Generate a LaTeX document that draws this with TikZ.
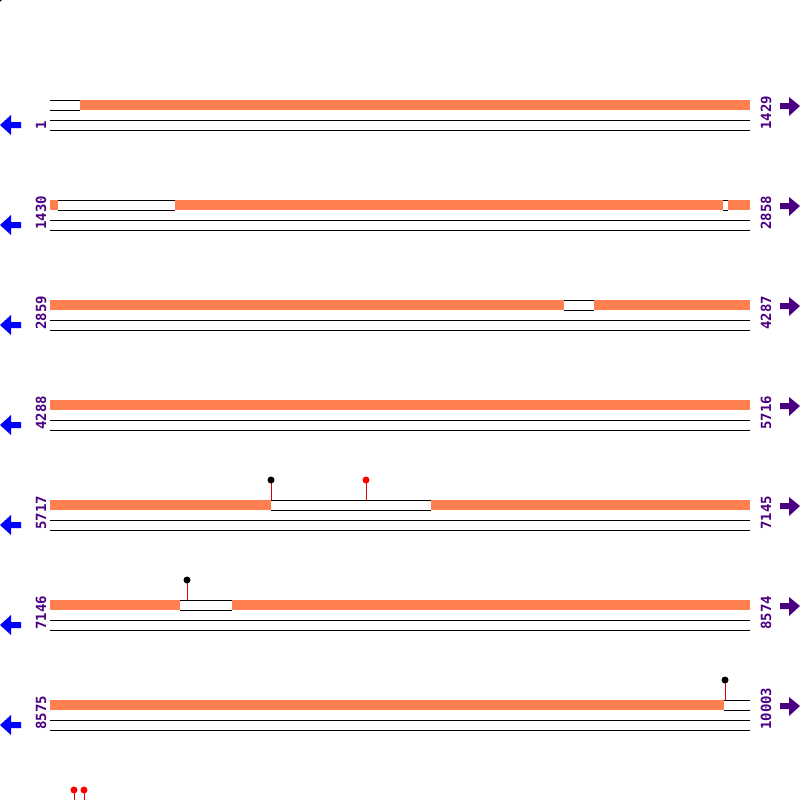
\documentclass[tikz,border=0pt]{standalone}
\usepackage{fontspec}
\newfontfamily\labfont{DejaVu Sans Mono}
\definecolor{barcol}{HTML}{FF7F50}
\definecolor{labcol}{HTML}{4B0082}
\definecolor{stemcol}{HTML}{E00000}
\tikzset{
  orangebar/.style={fill=barcol,draw=none},
  gapline/.style={draw=black,line width=1pt},
  track/.style={draw=black,line width=1pt},
  poslabel/.style={text=labcol,font=\labfont\bfseries\fontsize{14}{14}\selectfont,rotate=90,anchor=base west,inner sep=0pt},
  leftarrow/.style={fill=blue,draw=none},
  rightarrow/.style={fill=labcol,draw=none},
  stemline/.style={draw=stemcol,line width=1pt},
}
\begin{document}
\begin{tikzpicture}[x=1pt,y=-1pt]
\useasboundingbox (0,0) rectangle (800,800);
% rows: tracks, labels and arrows
\foreach \k/\l/\r in {0/1/1429,1/1430/2858,2/2859/4287,3/4288/5716,4/5717/7145,5/7146/8574,6/8575/10003}{
  \pgfmathsetmacro\yy{100+100*\k}
  \draw[track] (50,\yy+20) -- (750,\yy+20);
  \draw[track] (50,\yy+30) -- (750,\yy+30);
  \node[poslabel] (L\k) at (46,\yy+30) {\l};
  \node[poslabel] (R\k) at (771,\yy+30) {\r};
  \fill[leftarrow] (0,\yy+25) -- (11,\yy+15) -- (11,\yy+22) -- (21,\yy+22) -- (21,\yy+28) -- (11,\yy+28) -- (11,\yy+35) -- cycle;
  \fill[rightarrow] (800,\yy+6) -- (789,\yy-3) -- (789,\yy+3) -- (780,\yy+3) -- (780,\yy+9) -- (789,\yy+9) -- (789,\yy+16) -- cycle;
}
% orange segments
\foreach \y/\a/\b in {100/80/750,
  200/50/58, 200/175/723, 200/728/750,
  300/50/564, 300/594/750,
  400/50/750,
  500/50/271, 500/431/750,
  600/50/180, 600/232/750,
  700/50/724}{
  \fill[orangebar] (\a,\y) rectangle (\b,\y+10);
}
% white segments
\foreach \y/\a/\b in {100/50/80, 200/58/175, 200/723/728, 300/564/594, 500/271/431, 600/180/232, 700/724/750}{
  \draw[gapline] (\a,\y) -- (\b,\y);
  \draw[gapline] (\a,\y+10) -- (\b,\y+10);
}
% lollipops
\draw[stemline] (271,500) -- (271,480);
\fill[black] (271,480) circle (3.5);
\draw[stemline] (366,500) -- (366,480);
\fill[red] (366,480) circle (3.5);
\draw[stemline] (187,600) -- (187,580);
\fill[black] (187,580) circle (3.5);
\draw[stemline] (725,700) -- (725,680);
\fill[black] (725,680) circle (3.5);
\draw[stemline] (74,790) -- (74,802);
\fill[red] (74,790) circle (3.5);
\draw[stemline] (84,790) -- (84,802);
\fill[red] (84,790) circle (3.5);
\fill[black] (-1,-1) circle (3);
\end{tikzpicture}
\end{document}
